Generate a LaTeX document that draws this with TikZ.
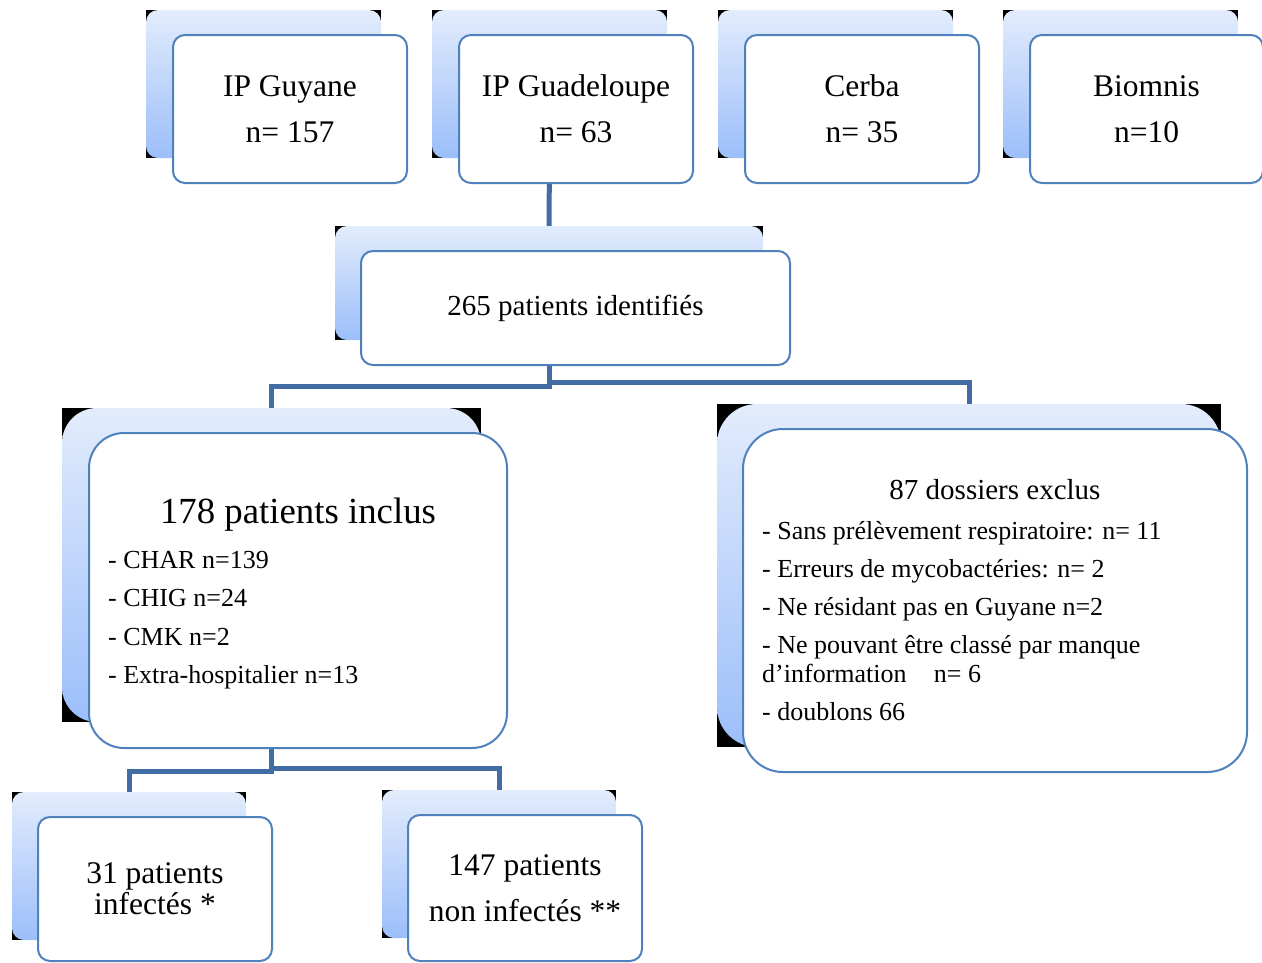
\documentclass[tikz,border=0pt]{standalone}
\usepackage{fontspec}
\setmainfont{Liberation Serif}
\usetikzlibrary{calc}
\definecolor{bordblue}{RGB}{79,129,189}
\definecolor{connblue}{RGB}{66,108,164}
\definecolor{gradtop}{RGB}{226,236,252}
\definecolor{gradbot}{RGB}{156,190,250}
\pgfdeclarelayer{connlayer}
\pgfdeclarelayer{backlayer}
\pgfsetlayers{connlayer,backlayer,main}
\tikzset{
  frontbox/.style={draw=bordblue, line width=2pt, fill=white, rounded corners=#1,
    inner sep=0pt, align=center, text=black},
  frontbox/.default=12pt,
  backbox/.style={fill=black, draw=none, inner sep=0pt,
    path picture={\shade[top color=gradtop, bottom color=gradbot, rounded corners=#1]
      (path picture bounding box.north west) rectangle (path picture bounding box.south east);}},
  backbox/.default=12pt,
  conn/.style={draw=connblue, line width=5pt},
  topfont/.style={font=\fontsize{31.5}{46}\selectfont},
  listtxt/.style={inner sep=0pt, align=left, text=black},
}
\begin{document}
\begin{tikzpicture}[x=1pt,y=-1pt]
\useasboundingbox (0,0) rectangle (1262,962);
% ---------- back shapes ----------
\begin{pgfonlayer}{backlayer}
\node[backbox, minimum width=235pt, minimum height=148pt] (guyb) at (263.5,84) {};
\node[backbox, minimum width=235pt, minimum height=148pt] (gdlb) at (549.5,84) {};
\node[backbox, minimum width=235pt, minimum height=148pt] (cerb) at (835.5,84) {};
\node[backbox, minimum width=235pt, minimum height=148pt] (biob) at (1120.5,84) {};
\node[backbox, minimum width=428pt, minimum height=114pt] (identb) at (549,283) {};
\node[backbox=35pt, minimum width=419pt, minimum height=314pt] (incb) at (271.5,565) {};
\node[backbox=40pt, minimum width=504pt, minimum height=343pt] (excb) at (969,575.5) {};
\node[backbox, minimum width=234pt, minimum height=148pt] (infb) at (129,866) {};
\node[backbox, minimum width=234pt, minimum height=148pt] (ninfb) at (499,864) {};
\end{pgfonlayer}
% ---------- top sources ----------
\node[frontbox, topfont, minimum width=234pt, minimum height=148pt] (guy) at (290,109) {IP Guyane\\n= 157};
\node[frontbox, topfont, minimum width=234pt, minimum height=148pt] (gdl) at (576,109) {IP Guadeloupe\\n= 63};
\node[frontbox, topfont, minimum width=234pt, minimum height=148pt] (cer) at (862,109) {Cerba\\n= 35};
\node[frontbox, topfont, minimum width=233pt, minimum height=148pt] (bio) at (1146.5,109) {Biomnis\\n=10};
% ---------- identified ----------
\node[frontbox, font=\fontsize{29}{35}\selectfont, minimum width=429pt, minimum height=114pt] (ident) at (575.5,308) {265 patients identifiés};
% ---------- included ----------
\node[frontbox=35pt, minimum width=418pt, minimum height=315pt] (inc) at (298,590.5) {};
\node[listtxt, anchor=base, font=\fontsize{36.8}{40}\selectfont] (inctitle) at (298,523) {178 patients inclus};
\node[listtxt, anchor=base west, font=\fontsize{26}{38.5}\selectfont] (inclist) at (108,683.5)
  {- CHAR n=139\\- CHIG n=24\\- CMK n=2\\- Extra-hospitalier n=13};
% ---------- excluded ----------
\node[frontbox=40pt, minimum width=504pt, minimum height=343pt] (exc) at (995,600.5) {};
\node[listtxt, anchor=base, font=\fontsize{29}{32}\selectfont] (exctitle) at (995,499) {87 dossiers exclus};
\node[listtxt, anchor=base west, font=\fontsize{26}{28.5}\selectfont] (exclist) at (762,720)
  {- Sans prélèvement respiratoire: n= 11\\[10pt]- Erreurs de mycobactéries: n= 2\\[9.5pt]- Ne résidant pas en Guyane n=2\\[9.5pt]- Ne pouvant être classé par manque\\d’information\hspace{0.8em} n= 6\\[9.5pt]- doublons 66};
% ---------- outcome ----------
\node[frontbox, font=\fontsize{31.5}{31}\selectfont, minimum width=234pt, minimum height=144pt] (inf) at (155,889) {31 patients\\infectés *};
\node[frontbox, font=\fontsize{31.5}{46}\selectfont, minimum width=234pt, minimum height=146pt] (ninf) at (525,888) {147 patients\\non infectés **};
% ---------- connectors ----------
\begin{pgfonlayer}{connlayer}
\draw[conn] (gdlb.south) -- (identb.north);
\draw[conn] (identb.south) -- ++(0,46) -| (incb.north);
\draw[conn] (identb.south) -- ++(0,42) -| (excb.north);
\draw[conn] (incb.south) -- ++(0,49) -| (infb.north);
\draw[conn] (incb.south) -- ++(0,46) -| (ninfb.north);
\end{pgfonlayer}
\end{tikzpicture}
\end{document}
